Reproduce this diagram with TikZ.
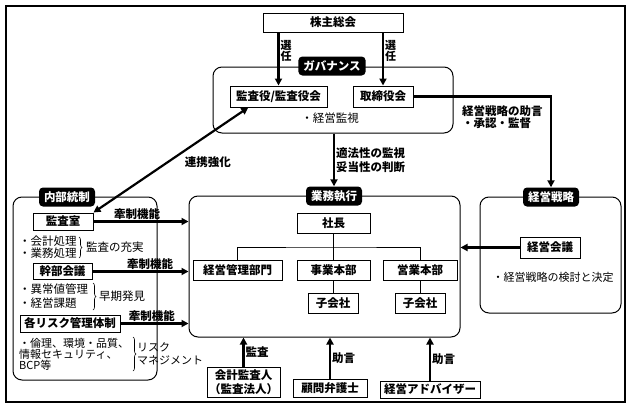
\documentclass[tikz,border=0pt]{standalone}
\usepackage{fontspec}
\setmainfont{Noto Sans CJK JP}
\usetikzlibrary{arrows.meta,decorations.pathreplacing}

\begin{document}
\begin{tikzpicture}[
		x=1pt, y=-1pt,
		font=\fontsize{11}{12}\selectfont,
		bloco/.style={
			draw,
			rectangle,
			fill=white,
			minimum height=20pt,
			inner sep=1pt,
			line width=1pt,
			font=\fontsize{11.5}{12}\selectfont\bfseries
		},
		grupo/.style={
			draw,
			rectangle,
			rounded corners=9pt,
			line width=1pt
		},
		etiqueta/.style={
			fill=black,
			text=white,
			rounded corners=4pt,
			minimum height=19pt,
			inner xsep=5pt,
			font=\fontsize{11.5}{12}\selectfont\bfseries
		},
		seta/.style={-{Triangle[length=7pt,width=7pt]}, line width=2.2pt},
		rotulo/.style={align=left, inner sep=1pt, font=\fontsize{11.5}{12}\selectfont\bfseries},
		texto/.style={align=left, inner sep=0pt, font=\fontsize{11.5}{12}\selectfont}
		]
		
		\useasboundingbox (0,0) rectangle (633,410);
		\draw[line width=1.3pt] (6,6) rectangle (625,402);
		
		%Grupos
		\node[grupo, minimum width=240pt, minimum height=66pt] (gov) at (333,100) {};
		\node[grupo, minimum width=271pt, minimum height=141pt] (gyomu) at (324.5,266.5) {};
		\node[grupo, minimum width=141pt, minimum height=116pt] (senryaku) at (550.5,255) {};
		\node[grupo, minimum width=144pt, minimum height=183pt] (naibu) at (85,288.5) {};
		
		\node[etiqueta] (tgov) at (332,66) {ガバナンス};
		\node[etiqueta] (tgyomu) at (334,196) {業務執行};
		\node[etiqueta] (tsen) at (551,197) {経営戦略};
		\node[etiqueta] (tnaibu) at (67,197) {内部統制};
		
		\node[bloco, minimum width=140pt, minimum height=19pt] (kabu) at (333,22.5) {株主総会};
		\node[bloco, minimum width=97pt, minimum height=21pt] (kansa) at (278.5,96.5) {監査役/監査役会};
		\node[bloco, minimum width=60pt, minimum height=21pt] (tori) at (383,96.5) {取締役会};
		\node[texto] (kanshi) at (330,118) {・経営監視};
		
		\node[bloco, minimum width=73pt] (shacho) at (333.5,223) {社長};
		\node[bloco, minimum width=89pt] (kanri) at (237.5,270) {経営管理部門};
		\node[bloco, minimum width=73pt] (jigyo) at (333.5,270) {事業本部};
		\node[bloco, minimum width=74pt] (eigyo) at (420,270) {営業本部};
		\node[bloco, minimum width=50pt] (ko1) at (333,303) {子会社};
		\node[bloco, minimum width=50pt] (ko2) at (420,303) {子会社};
		
		\node[bloco, minimum width=60pt, minimum height=21pt] (kaigi) at (550,247.5) {経営会議};
		\node[texto, font=\fontsize{11}{12}\selectfont] (kento) at (553,277) {・経営戦略の検討と決定};
		
		\node[bloco, minimum width=60pt, minimum height=17pt] (kanshitsu) at (63,221.5) {監査室};
		\node[bloco, minimum width=59pt, minimum height=16pt] (kanbu) at (62.5,271.5) {幹部会議};
		\node[bloco, minimum width=100pt, minimum height=17pt] (risk) at (70,323.5) {各リスク管理体制};
		
		\node[texto, anchor=west] (shori) at (19,247) {・会計処理\\・業務処理};
		\node[texto, anchor=west] (jujitsu) at (86,247) {監査の充実};
		\node[texto, anchor=west, font=\fontsize{11.5}{14}\selectfont] (ijo) at (19,296) {・異常値管理\\・経営課題};
		\node[texto, anchor=west] (soki) at (99,296) {早期発見};
		\node[texto, anchor=west, font=\fontsize{11}{11}\selectfont] (rinri) at (19,354) {・倫理、環境・品質、\\情報セキュリティ、\\BCP等};
		\node[texto, anchor=west, font=\fontsize{11}{13}\selectfont] (riskm) at (137,354) {リスク\\マネジメント};
		
		\draw[decorate, decoration={brace, amplitude=3pt}, line width=0.6pt] (79,237) -- (79,258);
		\draw[decorate, decoration={brace, amplitude=3pt}, line width=0.6pt] (93,283) -- (93,310);
		\draw[decorate, decoration={brace, amplitude=3pt}, line width=0.6pt] (133,337) -- (133,371);
		
		\node[bloco, minimum width=73pt, minimum height=30pt, align=center, font=\fontsize{11.5}{14}\selectfont\bfseries] (kaikei) at (243.5,382) {会計監査人\\（監査法人）};
		\node[bloco, minimum width=74pt, minimum height=18pt] (komon) at (330,388) {顧問弁護士};
		\node[bloco, minimum width=100pt, minimum height=17pt] (advisor) at (430,389.5) {経営アドバイザー};
		
		%Linhas
		\draw[seta] (kansa.north |- kabu.south) -- node[rotulo, right, pos=.35, align=center, font=\fontsize{11}{11.5}\selectfont\bfseries] {選\\任} (kansa.north);
		\draw[seta] (tori.north |- kabu.south) -- node[rotulo, right, pos=.35, align=center, font=\fontsize{11}{11.5}\selectfont\bfseries] {選\\任} (tori.north);
		
		\draw[seta] (tori.east) -| (tsen.north);
		\node[rotulo, anchor=west] (josen) at (461,117) {経営戦略の助言\\・承認・監督};
		
		\draw[{Triangle[length=7pt,width=7pt]}-{Triangle[length=7pt,width=7pt]}, line width=2.2pt] (kansa.200) -- node[rotulo, pos=.52, right=15pt] {連携強化} (kanshitsu.north east);
		
		\draw[seta] (gov.south -| tgyomu.north) -- node[rotulo, right, midway, font=\fontsize{11.5}{14}\selectfont\bfseries] {適法性の監視\\妥当性の判断} (tgyomu.north);
		
		\draw[seta] (kanshitsu.east) -- node[rotulo, above, pos=.46] {牽制機能} (kanshitsu.east -| gyomu.west);
		\draw[seta] (kanbu.east) -- node[rotulo, above, pos=.6] {牽制機能} (kanbu.east -| gyomu.west);
		\draw[seta] (risk.east) -- node[rotulo, above, pos=.46] {牽制機能} (risk.east -| gyomu.west);
		
		\draw[seta] (kaigi.west) -- (kaigi.west -| gyomu.east);
		
		\coordinate (bus) at (333.5,247);
		\draw[line width=0.8pt] (kanri.north) |- (bus) -| (eigyo.north);
		\draw[line width=0.8pt] (shacho.south) -- (jigyo.north);
		\draw[line width=0.8pt] (jigyo.south -| ko1.north) -- (ko1.north);
		\draw[line width=0.8pt] (eigyo.south) -- (ko2.north);
		
		\draw[seta] (kaikei.north) -- node[rotulo, right, midway] {監査} (kaikei.north |- gyomu.south);
		\draw[seta] (komon.north) -- node[rotulo, right, midway] {助言} (komon.north |- gyomu.south);
		\draw[seta] (advisor.north) -- node[rotulo, right, midway] {助言} (advisor.north |- gyomu.south);
		
	\end{tikzpicture}
\end{document}
